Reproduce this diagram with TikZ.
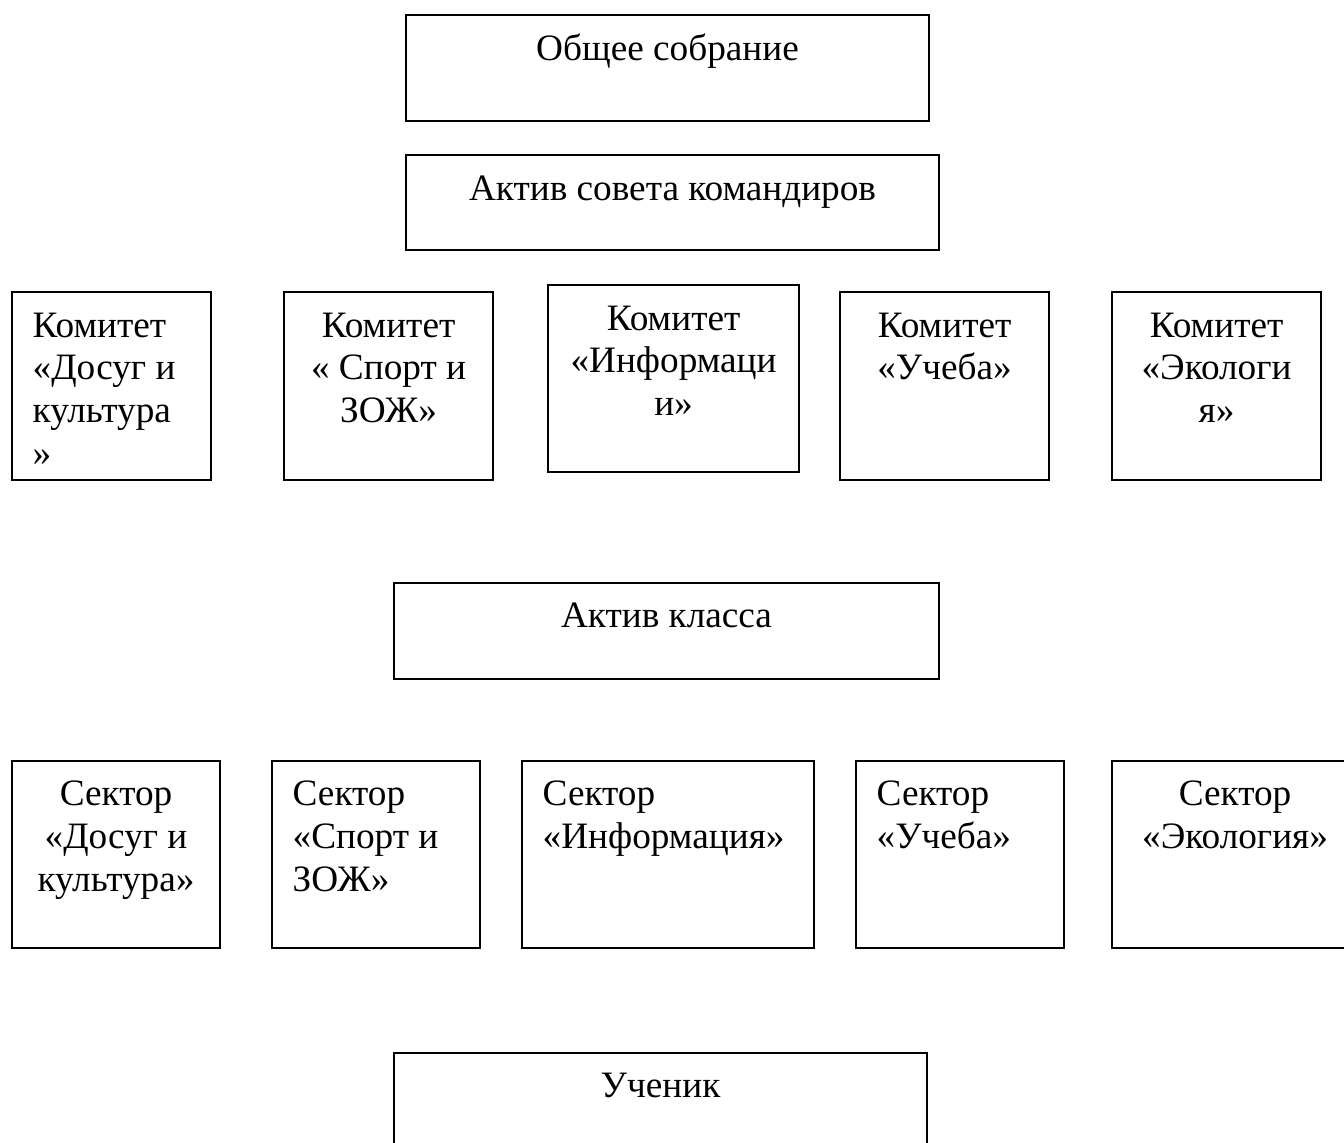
\documentclass[tikz,border=0pt]{standalone}
\usepackage{fontspec}
\setmainfont{Liberation Serif}
\usetikzlibrary{positioning}

\tikzset{
	box/.style={draw, line width=.6pt, anchor=north west, inner sep=0pt},
	txt/.style={inner sep=0pt, font=\fontsize{10.6}{12.2}\selectfont, execute at begin node=\strut},
	txtc/.style={txt, align=center},
	txtl/.style={txt, align=left}
}

\begin{document}
\begin{tikzpicture}
			\useasboundingbox (0,0) rectangle (13.44,-11.42);
			
			\node[box, minimum width=5.23cm, minimum height=1.06cm] (obsh) at (4.05,-.14) {};
			\node[txtc, below=.16cm of obsh.north] (obsht) {Общее собрание};
			\node[box, minimum width=5.33cm, minimum height=.95cm] (sovet) at (4.05,-1.54) {};
			\node[txtc, below=.16cm of sovet.north] (sovett) {Актив совета командиров};
			
			\node[box, minimum width=1.99cm, minimum height=1.88cm] (kom1) at (.11,-2.91) {};
			\node[txtl, below right=.21cm and .21cm of kom1.north west] (kom1t) {Комитет\\«Досуг и\\культура\\»};
			\node[box, minimum width=2.09cm, minimum height=1.88cm] (kom2) at (2.83,-2.91) {};
			\node[txtc, below=.21cm of kom2.north] (kom2t) {Комитет\\« Спорт и\\ЗОЖ»};
			\node[box, minimum width=2.51cm, minimum height=1.87cm] (kom3) at (5.47,-2.84) {};
			\node[txtc, below=.21cm of kom3.north] (kom3t) {Комитет\\«Информаци\\и»};
			\node[box, minimum width=2.09cm, minimum height=1.88cm] (kom4) at (8.39,-2.91) {};
			\node[txtc, below=.21cm of kom4.north] (kom4t) {Комитет\\«Учеба»};
			\node[box, minimum width=2.09cm, minimum height=1.88cm] (kom5) at (11.11,-2.91) {};
			\node[txtc, below=.21cm of kom5.north] (kom5t) {Комитет\\«Экологи\\я»};
			
			\node[box, minimum width=5.45cm, minimum height=.96cm] (aktiv) at (3.93,-5.82) {};
			\node[txtc, below=.15cm of aktiv.north] (aktivt) {Актив класса};
			
			\node[box, minimum width=2.08cm, minimum height=1.87cm] (sek1) at (.11,-7.6) {};
			\node[txtc, below=.2cm of sek1.north] (sek1t) {Сектор\\«Досуг и\\культура»};
			\node[box, minimum width=2.08cm, minimum height=1.87cm] (sek2) at (2.71,-7.6) {};
			\node[txtl, below right=.2cm and .21cm of sek2.north west] (sek2t) {Сектор\\«Спорт и\\ЗОЖ»};
			\node[box, minimum width=2.92cm, minimum height=1.87cm] (sek3) at (5.21,-7.6) {};
			\node[txtl, below right=.2cm and .21cm of sek3.north west] (sek3t) {Сектор\\«Информация»};
			\node[box, minimum width=2.08cm, minimum height=1.87cm] (sek4) at (8.55,-7.6) {};
			\node[txtl, below right=.2cm and .21cm of sek4.north west] (sek4t) {Сектор\\«Учеба»};
			\node[box, minimum width=2.46cm, minimum height=1.87cm] (sek5) at (11.11,-7.6) {};
			\node[txtc, below=.2cm of sek5.north] (sek5t) {Сектор\\«Экология»};
			
			\node[box, minimum width=5.33cm, minimum height=1.1cm] (uchenik) at (3.93,-10.52) {};
			\node[txtc, below=.15cm of uchenik.north] (uchenikt) {Ученик};
\end{tikzpicture}
\end{document}
